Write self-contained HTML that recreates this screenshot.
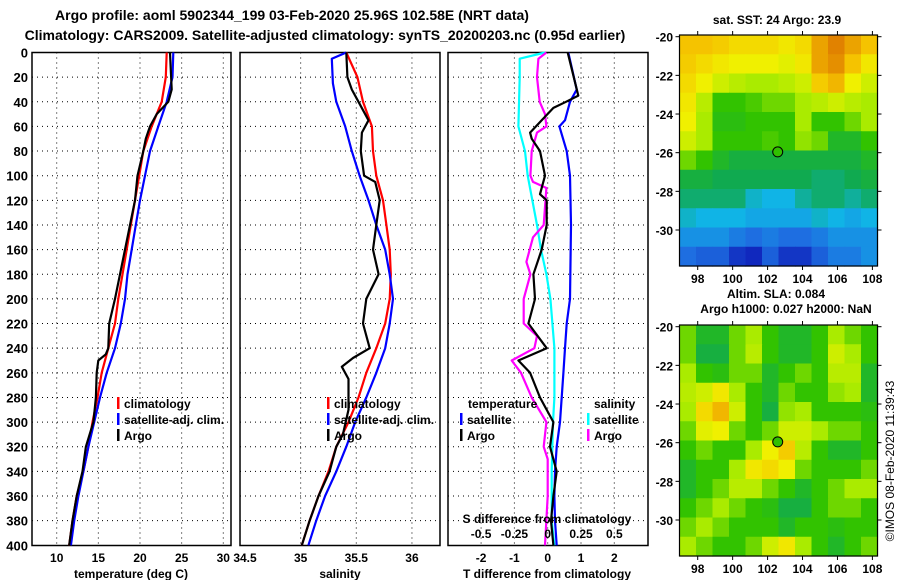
<!DOCTYPE html>
<html><head><meta charset="utf-8"><style>
body{margin:0;background:#fff}
svg{display:block;font-family:"Liberation Sans",sans-serif;font-weight:bold}
</style></head><body>
<svg id="fig" width="900" height="580" viewBox="0 0 900 580">
<text x="292" y="20" font-size="14" text-anchor="middle">Argo profile: aoml 5902344_199 03-Feb-2020 25.96S 102.58E (NRT data)</text>
<text x="325" y="40" font-size="14" text-anchor="middle">Climatology: CARS2009. Satellite-adjusted climatology: synTS_20200203.nc (0.95d earlier)</text>
<text x="777" y="24" font-size="12" text-anchor="middle">sat. SST: 24 Argo: 23.9</text>
<text x="776" y="298" font-size="12" text-anchor="middle">Altim. SLA: 0.084</text>
<text x="786" y="313" font-size="12" text-anchor="middle">Argo h1000: 0.027 h2000: NaN</text>
<text transform="translate(894,461) rotate(-90)" font-size="12" font-weight="normal" text-anchor="middle">©IMOS 08-Feb-2020 11:39:43</text>
<g id="g"></g>
</svg>
<script>
// ---- data ----
const depths = [0,20,40,60,80,100,120,140,160,180,200,220,240,260,280,300,320,340,360,380,400];
const tempClim = [23.2,23.1,22.6,21.4,20.4,19.9,19.4,18.9,18.4,17.9,17.4,17.0,16.2,15.4,14.9,14.3,13.8,13.2,12.4,11.9,11.5];
const tempSat  = [24.0,23.9,23.2,22.2,21.2,20.6,20.0,19.5,19.0,18.5,18.2,17.7,17.0,16.0,15.2,14.5,13.8,13.2,12.6,12.1,11.7];
const argoTDepths = [0,30,40,50,60,70,80,100,120,140,160,180,200,220,240,245,250,260,280,300,320,340,360,380,400];
const argoT = [23.6,23.8,23.4,22.0,21.2,20.7,20.4,19.7,19.4,18.8,18.2,17.6,17.0,16.3,16.2,15.9,15.0,14.8,14.7,14.4,13.5,13.1,12.4,11.9,11.5];
const salClim = [35.41,35.51,35.56,35.64,35.65,35.68,35.74,35.77,35.80,35.81,35.80,35.76,35.68,35.59,35.52,35.43,35.32,35.25,35.16,35.08,35.01];
const salSatDepths = [0,5,25,40,60,80,100,120,140,160,180,200,220,240,260,280,300,320,340,360,380,400];
const salSat = [35.41,35.28,35.29,35.32,35.40,35.46,35.53,35.61,35.68,35.76,35.80,35.83,35.80,35.76,35.68,35.59,35.49,35.41,35.32,35.22,35.14,35.07];
const argoSDepths = [0,20,30,40,55,65,80,100,105,120,140,160,180,200,220,240,248,255,265,290,310,320,330,340,360,380,400];
const argoS = [35.41,35.42,35.46,35.52,35.61,35.55,35.54,35.57,35.67,35.71,35.68,35.65,35.70,35.59,35.56,35.62,35.47,35.37,35.43,35.43,35.38,35.32,35.29,35.26,35.16,35.08,35.01];
const tdSatDepths = [0,30,40,55,60,80,100,140,200,220,240,260,280,300,320,340,360,380,400];
const tdSat = [0.62,0.87,0.67,0.52,0.35,0.57,0.67,0.70,0.67,0.57,0.52,0.47,0.42,0.37,0.27,0.22,0.20,0.22,0.27];
const sdSatDepths = [0,5,20,60,80,100,140,160,180,200,240,280,300,340,380,400];
const sdSat = [-0.02,-0.21,-0.21,-0.22,-0.17,-0.15,-0.08,-0.05,-0.01,0.02,0.05,0.05,0.04,0.03,0.03,0.05];
const sdArgoDepths = [0,5,20,40,50,60,65,80,100,105,110,140,150,170,180,200,220,230,240,250,260,280,300,320,330,360,400];
const sdArgo = [-0.01,-0.07,-0.08,-0.06,-0.02,-0.01,-0.08,-0.12,-0.13,-0.11,-0.01,-0.03,-0.11,-0.16,-0.13,-0.18,-0.18,-0.08,-0.10,-0.27,-0.20,-0.12,-0.01,-0.03,0.0,0.0,-0.02];
const tdArgoDepths = [0,35,40,45,55,65,70,80,100,115,120,140,160,180,200,220,240,250,260,280,300,320,340,360,380,400];
const tdArgo = [0.60,0.92,0.55,0.17,-0.18,-0.53,-0.48,-0.23,-0.08,-0.23,-0.03,-0.03,-0.18,-0.43,-0.38,-0.58,-0.03,-0.88,-0.53,-0.23,0.17,0.07,0.27,0.17,0.10,0.17];
const depthTicks = [0,20,40,60,80,100,120,140,160,180,200,220,240,260,280,300,320,340,360,380,400];
const tempTicks = [10,15,20,25,30];
const salTicks = [34.5,35,35.5,36];
const tdTicks = [-2,-1,0,1,2];
const sdTicks = [-0.5,-0.25,0,0.25,0.5];
const lonTicks = [98,100,102,104,106,108];
const latTicks = [-20,-22,-24,-26,-28,-30];
const argoLon = 102.58, argoLat = -25.96;
const sstGrid = [
[0.8,0.8,0.78,0.75,0.75,0.75,0.72,0.75,0.85,0.9,0.85,0.8],
[0.78,0.75,0.72,0.7,0.7,0.7,0.68,0.72,0.85,0.88,0.8,0.72],
[0.75,0.7,0.65,0.62,0.6,0.6,0.62,0.65,0.78,0.82,0.7,0.65],
[0.72,0.62,0.5,0.5,0.52,0.55,0.55,0.6,0.62,0.65,0.62,0.6],
[0.7,0.6,0.48,0.48,0.5,0.5,0.5,0.6,0.5,0.5,0.55,0.6],
[0.65,0.6,0.5,0.5,0.5,0.52,0.5,0.58,0.55,0.45,0.45,0.5],
[0.55,0.5,0.45,0.42,0.42,0.42,0.42,0.42,0.42,0.42,0.42,0.45],
[0.42,0.42,0.4,0.4,0.4,0.4,0.4,0.4,0.38,0.38,0.4,0.42],
[0.38,0.38,0.38,0.38,0.32,0.3,0.3,0.35,0.38,0.38,0.35,0.38],
[0.32,0.3,0.3,0.3,0.28,0.28,0.28,0.28,0.32,0.3,0.28,0.3],
[0.25,0.25,0.25,0.22,0.2,0.22,0.2,0.2,0.22,0.25,0.25,0.25],
[0.2,0.18,0.18,0.12,0.1,0.18,0.12,0.12,0.18,0.22,0.22,0.25]];
const slaGrid = [
[0.55,0.45,0.45,0.55,0.6,0.5,0.45,0.45,0.5,0.6,0.55,0.5],
[0.55,0.42,0.42,0.55,0.62,0.5,0.45,0.45,0.5,0.65,0.6,0.5],
[0.6,0.5,0.48,0.55,0.55,0.45,0.5,0.55,0.5,0.62,0.62,0.45],
[0.62,0.65,0.72,0.6,0.5,0.45,0.55,0.5,0.5,0.58,0.6,0.45],
[0.6,0.75,0.82,0.65,0.5,0.42,0.58,0.6,0.5,0.5,0.5,0.48],
[0.55,0.68,0.7,0.55,0.5,0.55,0.65,0.65,0.6,0.55,0.55,0.5],
[0.5,0.55,0.5,0.5,0.6,0.7,0.78,0.62,0.5,0.45,0.45,0.5],
[0.45,0.5,0.5,0.6,0.72,0.75,0.7,0.55,0.5,0.5,0.5,0.55],
[0.45,0.5,0.55,0.62,0.62,0.55,0.5,0.45,0.5,0.55,0.6,0.6],
[0.5,0.55,0.6,0.55,0.5,0.48,0.42,0.42,0.5,0.55,0.55,0.5],
[0.55,0.6,0.55,0.5,0.5,0.5,0.45,0.5,0.5,0.48,0.5,0.5],
[0.6,0.55,0.5,0.5,0.55,0.65,0.72,0.6,0.5,0.45,0.5,0.55]];

// ---- helpers ----
const NS='http://www.w3.org/2000/svg';
const G=document.getElementById('g');
function mk(tag,attrs,parent){const e=document.createElementNS(NS,tag);for(const k in attrs)e.setAttribute(k,attrs[k]);(parent||G).appendChild(e);return e;}
const yD = d => 52.5 + d*1.232;
const xT = t => 56.7 + (t-10)*8.33;
const xS = s => 245 + (s-34.5)*111.3;
const xTD = t => 547.7 + t*33.3;
const xSD = s => 547.7 + s*133.3;
const Y0=52.5, Y1=545.5;

function panel(x0,x1,name){
  const r=mk('rect',{x:x0,y:Y0,width:x1-x0,height:Y1-Y0,fill:'none',stroke:'#000','stroke-width':1.5});
  
  
  depthTicks.forEach(d=>{ if(d>0&&d<400){
    const l=mk('line',{x1:x0,x2:x1,y1:yD(d),y2:yD(d),stroke:'#000','stroke-dasharray':'1,4','stroke-width':1});
    
    
  }});
}
function vgrid(vals,fx,name){
  vals.forEach(v=>{const x=fx(v);
    const l=mk('line',{x1:x,x2:x,y1:Y0,y2:Y1,stroke:'#000','stroke-dasharray':'1,4','stroke-width':1});
    
    
  });
}
function line(ds,vs,fx,color,name){
  const pts=ds.map((d,i)=>fx(vs[i]).toFixed(1)+','+yD(d).toFixed(1)).join(' ');
  const p=mk('polyline',{points:pts,fill:'none',stroke:color,'stroke-width':2.2,'stroke-linejoin':'round'});
  
  
}
function txt(x,y,s,anchor,name,size,col){
  const t=mk('text',{x:x,y:y,'font-size':size||12,'text-anchor':anchor||'middle',fill:col||'#000'});
  t.textContent=s;
  
  
  return t;
}
function legend(x,y,color,label,name){
  const b=mk('rect',{x:x,y:y-11,width:2.5,height:12,fill:color});
  
  
  txt(x+7,y,label,'start',name,12);
}

// Panel 1: temperature
panel(32,231,'temperature-panel');
vgrid(tempTicks,xT,'temperature-gridline');
depthTicks.forEach(d=>txt(28,yD(d)+5,String(d),'end','depth-tick-label',13));
tempTicks.forEach(t=>txt(xT(t),562,String(t),'middle','temperature-tick-label',12));
txt(131,578,'temperature (deg C)','middle','temperature-axis-title',12);
line(depths,tempClim,xT,'#ff0000','temp-climatology-line');
line(depths,tempSat,xT,'#0000ff','temp-satellite-line');
line(argoTDepths,argoT,xT,'#000000','temp-argo-line');
legend(117,408,'#ff0000','climatology','legend-climatology');
legend(117,424,'#0000ff','satellite-adj. clim.','legend-satellite');
legend(117,440,'#000000','Argo','legend-argo');

// Panel 2: salinity
panel(240,440,'salinity-panel');
vgrid(salTicks.slice(1),xS,'salinity-gridline');
salTicks.forEach(s=>txt(xS(s),562,String(s),'middle','salinity-tick-label',12));
txt(340,578,'salinity','middle','salinity-axis-title',12);
line(depths,salClim,xS,'#ff0000','sal-climatology-line');
line(salSatDepths,salSat,xS,'#0000ff','sal-satellite-line');
line(argoSDepths,argoS,xS,'#000000','sal-argo-line');
legend(327,408,'#ff0000','climatology','legend2-climatology');
legend(327,424,'#0000ff','satellite-adj. clim.','legend2-satellite');
legend(327,440,'#000000','Argo','legend2-argo');

// Panel 3: differences
panel(448,648,'difference-panel');
vgrid(tdTicks,xTD,'tdiff-gridline');
tdTicks.forEach(t=>txt(xTD(t),562,String(t),'middle','tdiff-tick-label',12));
txt(547,578,'T difference from climatology','middle','tdiff-axis-title',12);
line(sdSatDepths,sdSat,xSD,'#00ffff','sdiff-satellite-line');
line(sdArgoDepths,sdArgo,xSD,'#ff00ff','sdiff-argo-line');
line(tdSatDepths,tdSat,xTD,'#0000ff','tdiff-satellite-line');
line(tdArgoDepths,tdArgo,xTD,'#000000','tdiff-argo-line');
txt(468,408,'temperature','start','legend3-temperature-heading',12);
legend(460,424,'#0000ff','satellite','legend3-t-satellite');
legend(460,440,'#000000','Argo','legend3-t-argo');
txt(594,408,'salinity','start','legend3-salinity-heading',12);
legend(587,424,'#00ffff','satellite','legend3-s-satellite');
legend(587,440,'#ff00ff','Argo','legend3-s-argo');
txt(547,523,'S difference from climatology','middle','sdiff-axis-title',12);
sdTicks.forEach(s=>txt(xSD(s),538,String(s),'middle','sdiff-tick-label',12));

// Maps
const stops=[[0.1,[16,40,190]],[0.2,[30,110,225]],[0.3,[16,180,230]],[0.4,[16,170,80]],[0.5,[50,195,0]],[0.6,[170,235,0]],[0.7,[240,240,0]],[0.8,[245,195,0]],[0.9,[225,130,0]]];
function cmap(v){
  if(v<=stops[0][0])return 'rgb('+stops[0][1]+')';
  for(let i=1;i<stops.length;i++){if(v<=stops[i][0]){const a=stops[i-1],b=stops[i],f=(v-a[0])/(b[0]-a[0]);
    return 'rgb('+a[1].map((c,j)=>Math.round(c+(b[1][j]-c)*f)).join(',')+')';}}
  return 'rgb('+stops[stops.length-1][1]+')';
}
function map(grid,top,name){
  const L=679.5,R=877.5,B=top+231;
  const xL=lon=>697.7+(lon-98)*17.47;
  const yL=lat=>top+1.7+(-20-lat)*19.33;
  const rows=grid.length,cols=grid[0].length,cw=(R-L)/cols,ch=(B-top)/rows;
  const g=mk('g',{});
  
  
  grid.forEach((row,i)=>row.forEach((v,j)=>{
    const c=mk('rect',{x:L+j*cw,y:top+i*ch,width:cw+0.6,height:ch+0.6,fill:cmap(v)},g);
    
    
  }));
  const f=mk('rect',{x:L,y:top,width:R-L,height:B-top,fill:'none',stroke:'#000','stroke-width':1.2});
  
  
  lonTicks.forEach(l=>{const x=xL(l);
    mk('line',{x1:x,x2:x,y1:B,y2:B+4,stroke:'#000'});
    mk('line',{x1:x,x2:x,y1:top,y2:top-4,stroke:'#000'});
    txt(x,B+17,String(l),'middle','longitude-tick-label',12);});
  latTicks.forEach(l=>{const y=yL(l);
    mk('line',{x1:L,x2:L-4,y1:y,y2:y,stroke:'#000'});
    mk('line',{x1:R,x2:R+4,y1:y,y2:y,stroke:'#000'});
    txt(673,y+5,String(l),'end','latitude-tick-label',12);});
  const m=mk('circle',{cx:xL(argoLon),cy:yL(argoLat),r:5,fill:'#30c000',stroke:'#000','stroke-width':1});
  
  
}
map(sstGrid,35,'sst-map');
map(slaGrid,325,'sla-map');
</script>
</body></html>
